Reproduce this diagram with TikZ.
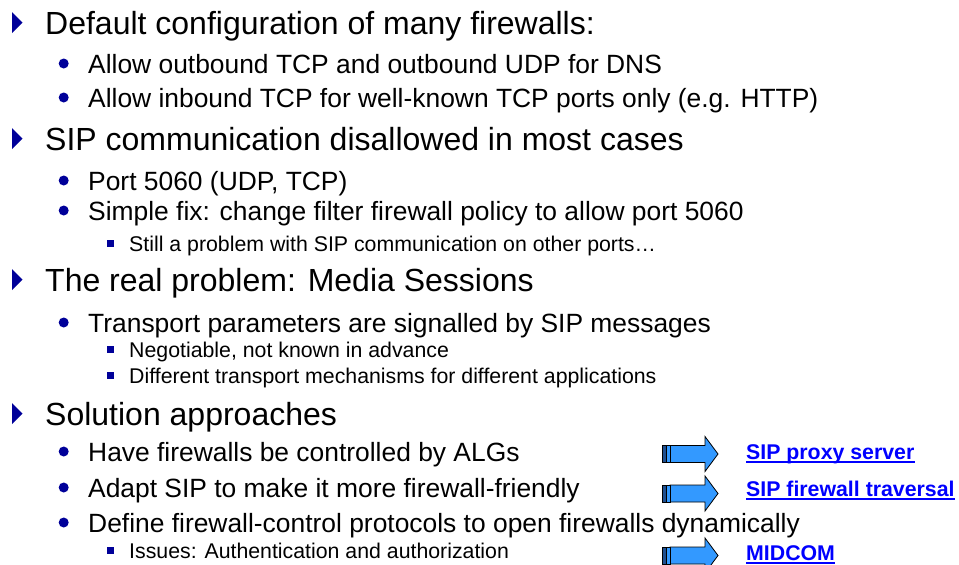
\documentclass[tikz,border=0pt]{standalone}
\usepackage{fontspec}
\setmainfont{Liberation Sans}
\definecolor{bul}{HTML}{000099}
\definecolor{lnk}{HTML}{0000FF}
\definecolor{arr}{HTML}{3399FF}
\definecolor{arrdark}{HTML}{1F4F8F}
\newcommand\triBullet[1]{\fill[bul] (12,#1-22) -- (22.5,#1-11.5) -- (12,#1-1) -- cycle;}
\newcommand\dotBullet[1]{\fill[bul] (63.7,#1-9.5) circle (5);}
\newcommand\sqBullet[1]{\fill[bul] (106.5,#1-11.5) rectangle (113.5,#1-4.5);}
\newcommand\fatArrow[1]{%
  \draw[black,fill=arr,line width=0.8pt] (670,#1-8.5) -- (705,#1-8.5) -- (705,#1-17.5) -- (718,#1) -- (705,#1+17.5) -- (705,#1+8.5) -- (670,#1+8.5) -- cycle;
  \draw[black,fill=arrdark,line width=0.7pt] (662,#1-8.5) rectangle (666,#1+8.5);
  \draw[black,fill=arr,line width=0.7pt] (666,#1-8.5) rectangle (670,#1+8.5);}
\begin{document}
\begin{tikzpicture}[x=1pt,y=-1pt,
  lone/.style={anchor=base west,inner sep=0pt,font=\fontsize{32}{36}\selectfont},
  ltwo/.style={anchor=base west,inner sep=0pt,font=\fontsize{26.4}{30}\selectfont},
  lthree/.style={anchor=base west,inner sep=0pt,font=\fontsize{21.3}{24}\selectfont},
  linktext/.style={anchor=base west,inner sep=0pt,text=lnk,font=\bfseries\fontsize{21.3}{24}\selectfont},
  uline/.style={lnk,line width=1.8pt}]
\useasboundingbox (0,0) rectangle (959,565);
\clip (0,0) rectangle (959,565);
% level 1
\triBullet{34}  \node[lone] (a1) at (45,34) {Default configuration of many firewalls:};
\triBullet{150} \node[lone] (a2) at (45,150) {SIP communication disallowed in most cases};
\triBullet{291} \node[lone] (a3) at (45,291) {The real problem: Media Sessions};
\triBullet{425} \node[lone] (a4) at (45,425) {Solution approaches};
% level 2
\dotBullet{73}  \node[ltwo] (b1) at (88,73) {Allow outbound TCP and outbound UDP for DNS};
\dotBullet{107} \node[ltwo] (b2) at (88,107) {Allow inbound TCP for well-known TCP ports only (e.g. HTTP)};
\dotBullet{190} \node[ltwo] (b3) at (88,190) {Port 5060 (UDP, TCP)};
\dotBullet{220} \node[ltwo] (b4) at (88,220) {Simple fix: change filter firewall policy to allow port 5060};
\dotBullet{332} \node[ltwo] (b5) at (88,332) {Transport parameters are signalled by SIP messages};
\dotBullet{461} \node[ltwo] (b6) at (88,461) {Have firewalls be controlled by ALGs};
\dotBullet{497} \node[ltwo] (b7) at (88,497) {Adapt SIP to make it more firewall-friendly};
\dotBullet{532} \node[ltwo] (b8) at (88,532) {Define firewall-control protocols to open firewalls dynamically};
% level 3
\sqBullet{251.5} \node[lthree] (c1) at (129,251.5) {Still a problem with SIP communication on other ports…};
\sqBullet{357}   \node[lthree] (c2) at (129,357) {Negotiable, not known in advance};
\sqBullet{383}   \node[lthree] (c3) at (129,383) {Different transport mechanisms for different applications};
\sqBullet{558}   \node[lthree] (c4) at (129,558) {Issues: Authentication and authorization};
% arrows and links
\fatArrow{454}
\fatArrow{493.5}
\fatArrow{555.5}
\node[linktext] (d1) at (746,459) {SIP proxy server};
\node[linktext] (d2) at (746,496) {SIP firewall traversal};
\node[linktext] (d3) at (746,560) {MIDCOM};
\draw[uline] ([yshift=-3pt]d1.base west) -- ([yshift=-3pt]d1.base east);
\draw[uline] ([yshift=-3pt]d2.base west) -- ([yshift=-3pt]d2.base east);
\draw[uline] ([yshift=-3pt]d3.base west) -- ([yshift=-3pt]d3.base east);
\end{tikzpicture}
\end{document}
